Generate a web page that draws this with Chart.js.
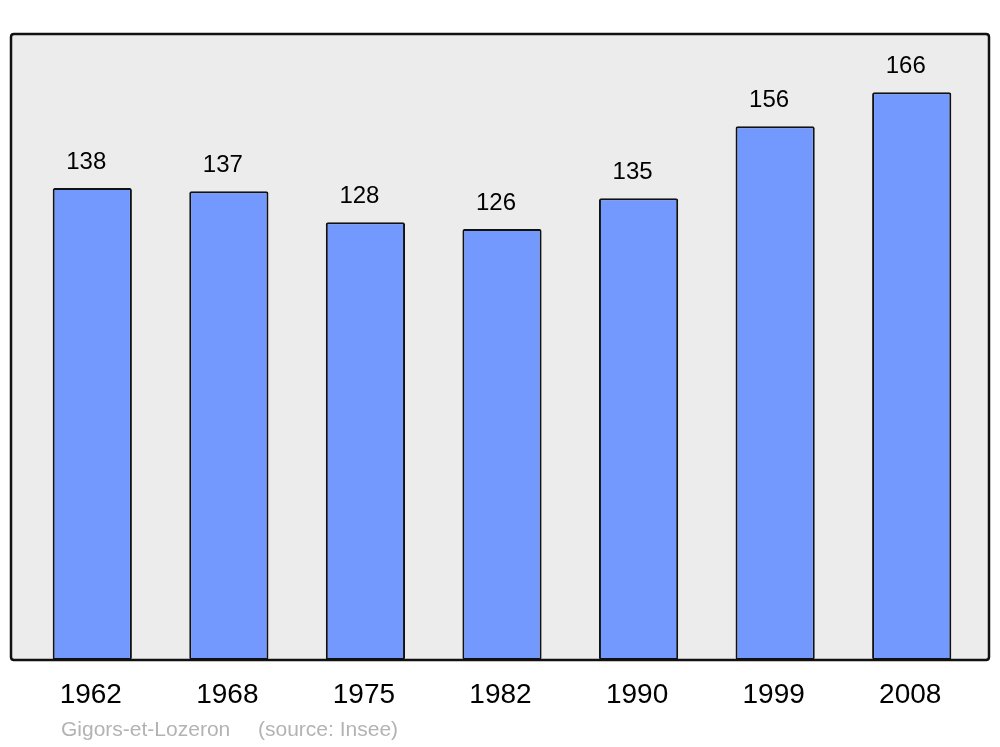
<!DOCTYPE html>
<html>
<head>
<meta charset="utf-8">
<script src="https://cdn.jsdelivr.net/npm/chart.js"></script>
<style>
  html, body { margin: 0; padding: 0; background: #fff; }
  #wrap { width: 1000px; height: 747px; }
</style>
</head>
<body>
<div id="wrap"><canvas id="popChart" width="1000" height="747"></canvas></div>
<script>
    // population data
    const years = ['1962', '1968', '1975', '1982', '1990', '1999', '2008'];
    const population = [138, 137, 128, 126, 135, 156, 166];
    const commune = 'Gigors-et-Lozeron';
    const source = '(source: Insee)';

    function roundRect(ctx, x, y, w, h, r) {
        ctx.beginPath();
        ctx.moveTo(x + r, y);
        ctx.lineTo(x + w - r, y);
        ctx.quadraticCurveTo(x + w, y, x + w, y + r);
        ctx.lineTo(x + w, y + h - r);
        ctx.quadraticCurveTo(x + w, y + h, x + w - r, y + h);
        ctx.lineTo(x + r, y + h);
        ctx.quadraticCurveTo(x, y + h, x, y + h - r);
        ctx.lineTo(x, y + r);
        ctx.quadraticCurveTo(x, y, x + r, y);
        ctx.closePath();
    }

    const framePlugin = {
        id: 'frame',
        beforeDatasetsDraw(chart) {
            const ctx = chart.ctx;
            const a = chart.chartArea;
            ctx.save();
            roundRect(ctx, 11, a.top, 978, a.bottom - a.top, 3);
            ctx.fillStyle = '#ececec';
            ctx.fill();
            ctx.restore();
        },
        afterDatasetsDraw(chart) {
            const ctx = chart.ctx;
            const a = chart.chartArea;
            ctx.save();
            roundRect(ctx, 11, a.top, 978, a.bottom - a.top, 3);
            ctx.lineWidth = 2.5;
            ctx.strokeStyle = '#111';
            ctx.stroke();

            // value labels above bars
            ctx.fillStyle = '#000';
            ctx.font = '24px "Liberation Sans", Arial, sans-serif';
            ctx.textAlign = 'center';
            ctx.textBaseline = 'alphabetic';
            chart.getDatasetMeta(0).data.forEach((bar, i) => {
                ctx.fillText(population[i], bar.x - 6, bar.y - 19);
            });

            // year labels under axis
            const xs = chart.scales.x;
            ctx.font = '28px "Liberation Sans", Arial, sans-serif';
            ctx.textBaseline = 'middle';
            years.forEach((y, i) => {
                ctx.fillText(y, xs.getPixelForValue(i) - 1.5, 695);
            });

            // footer
            ctx.fillStyle = '#b3b3b3';
            ctx.font = '21px "Liberation Sans", Arial, sans-serif';
            ctx.textAlign = 'left';
            ctx.fillText(commune, 61, 730);
            ctx.fillText(source, 258, 730);
            ctx.restore();
        }
    };

    const ctx = document.getElementById('popChart').getContext('2d');
    const popChart = new Chart(ctx, {
        type: 'bar',
        data: {
            labels: years,
            datasets: [{
                data: population,
                backgroundColor: '#7399ff',
                borderColor: '#111',
                borderWidth: 2,
                borderRadius: 2,
                borderSkipped: false,
                barPercentage: 0.58,
                categoryPercentage: 1
            }]
        },
        options: {
            responsive: false,
            animation: false,
            layout: { padding: { left: 24, right: 20, top: 34, bottom: 87 } },
            plugins: {
                legend: { display: false },
                tooltip: { enabled: false }
            },
            scales: {
                x: { display: false },
                y: { display: false, min: 0, max: 183 }
            }
        },
        plugins: [framePlugin]
    });
</script>
</body>
</html>
